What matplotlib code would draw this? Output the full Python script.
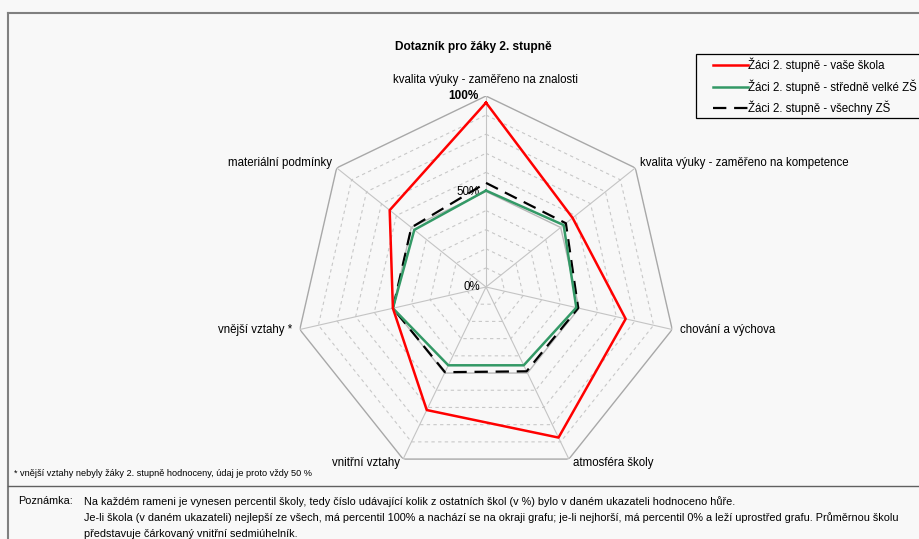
import numpy as np
import matplotlib
matplotlib.use("Agg")
import matplotlib.pyplot as plt
from matplotlib.lines import Line2D
from matplotlib.patches import Rectangle

plt.rcParams['font.family'] = ['Liberation Sans', 'DejaVu Sans']

# categories (clockwise from top)
categories = [
    "kvalita výuky - zaměřeno na znalosti",
    "kvalita výuky - zaměřeno na kompetence",
    "chování a výchova",
    "atmosféra školy",
    "vnitřní vztahy",
    "vnější vztahy *",
    "materiální podmínky",
]

# percentiles (0..1)
vase_skola = [0.965, 0.58, 0.75, 0.875, 0.715, 0.50, 0.645]
stredne_velke = [0.505, 0.52, 0.485, 0.455, 0.455, 0.50, 0.48]
vsechny = [0.545, 0.535, 0.495, 0.49, 0.495, 0.50, 0.50]

series_names = ["Žáci 2. stupně - vaše škola",
                "Žáci 2. stupně - středně velké ZŠ",
                "Žáci 2. stupně - všechny ZŠ"]

grid_levels = [0.1, 0.2, 0.3, 0.4, 0.5, 0.6, 0.7, 0.8, 0.9, 1.0]
bg = "#f8f8f8"

W, H = 920, 539
fig = plt.figure(figsize=(W / 100, H / 100), dpi=100, facecolor=bg)

# polar axes placed so that centre is at (486, 287) px, radius 191 px
cx, cy, R = 486, 287, 191
ax = fig.add_axes([(cx - R) / W, 1 - (cy + R) / H, 2 * R / W, 2 * R / H],
                  projection="polar")
ax.set_theta_zero_location("N")
ax.set_theta_direction(-1)
ax.set_ylim(0, 1)
ax.patch.set_alpha(0)
ax.spines["polar"].set_visible(False)
ax.grid(False)
ax.set_xticks([])
ax.set_yticks([])

n = len(categories)
theta = np.arange(n) * 2 * np.pi / n
theta_c = np.append(theta, theta[0])

# heptagon grid
for lv in grid_levels:
    r = [lv] * (n + 1)
    if lv == 1.0:
        ax.plot(theta_c, r, color="#a8a8a8", lw=1.0, zorder=1)
    elif lv == 0.5:
        ax.plot(theta_c, r, color="#b8b8b8", lw=1.0, zorder=1)
    else:
        ax.plot(theta_c, r, color="#c8c8c8", lw=0.8, ls=(0, (3, 3)), zorder=1)
for t in theta:
    ax.plot([t, t], [0, 1], color="#c4c4c4", lw=0.8, zorder=1)


def closed(v):
    return list(v) + [v[0]]


ax.plot(theta_c, closed(vsechny), color="black", lw=1.6, ls=(0, (6, 3.5)), zorder=3)
ax.plot(theta_c, closed(stredne_velke), color="#339966", lw=1.8, zorder=4)
ax.plot(theta_c, closed(vase_skola), color="#ff0000", lw=1.8, zorder=5)

# radial labels
ax.annotate("100%", (0, 1.0), xytext=(-7, 0), textcoords="offset pixels",
            ha="right", va="center", fontsize=8.5, fontweight="bold")
ax.annotate("50%", (0, 0.5), xytext=(-6, 0), textcoords="offset pixels",
            ha="right", va="center", fontsize=8.3)
ax.annotate("0%", (0, 0.0), xytext=(-6, 0), textcoords="offset pixels",
            ha="right", va="center", fontsize=8.3)

# category labels
label_pos = [
    ((0, 16), "center", "center"),
    ((5, 5), "left", "center"),
    ((8, 0), "left", "center"),
    ((4, -4), "left", "center"),
    ((-3, -4), "right", "center"),
    ((-8, 0), "right", "center"),
    ((-5, 5), "right", "center"),
]
for t, lab, (off, ha, va) in zip(theta, categories, label_pos):
    ax.annotate(lab, (t, 1.0), xytext=off, textcoords="offset pixels",
                ha=ha, va=va, fontsize=8.3)

fig.text(473 / W, 1 - 47 / H, "Dotazník pro žáky 2. stupně", ha="center",
         va="center", fontsize=8.6, fontweight="bold")

# legend (frame drawn separately)
fig.add_artist(Rectangle((696 / W, 1 - 118 / H), (930 - 696) / W, 64 / H,
                         transform=fig.transFigure, facecolor=bg,
                         edgecolor="black", lw=0.9, zorder=2))
handles = [Line2D([], [], color="#ff0000", lw=1.8),
           Line2D([], [], color="#339966", lw=1.8),
           Line2D([], [], color="black", lw=1.6, ls=(0, (6, 3.5)))]
leg = fig.legend(handles, series_names, loc="upper left",
                 bbox_to_anchor=(713 / W, 1 - 58 / H), fontsize=8.3,
                 frameon=False, handlelength=3.0,
                 handletextpad=0.05, labelspacing=0.6, borderpad=0,
                 borderaxespad=0)
leg.set_zorder(3)

# frame lines
fig.add_artist(Line2D([8 / W, 1], [1 - 13 / H] * 2, color="#808080", lw=1.5))
fig.add_artist(Line2D([8 / W] * 2, [0, 1 - 13 / H], color="#808080", lw=1.5))
fig.add_artist(Line2D([8 / W, 1], [1 - 486 / H] * 2, color="#606060", lw=1.0))

fig.text(14 / W, 1 - 474 / H,
         "* vnější vztahy nebyly žáky 2. stupně hodnoceny, údaj je proto vždy 50 %",
         ha="left", va="center", fontsize=6.6)

fig.text(18 / W, 1 - 501 / H, "Poznámka:", ha="left", va="center", fontsize=7.8)
note_lines = [
    "Na každém rameni je vynesen percentil školy, tedy číslo udávající kolik z ostatních škol (v %) bylo v daném ukazateli hodnoceno hůře.",
    "Je-li škola (v daném ukazateli) nejlepší ze všech, má percentil 100% a nachází se na okraji grafu; je-li nejhorší, má percentil 0% a leží uprostřed grafu. Průměrnou školu",
    "představuje čárkovaný vnitřní sedmiúhelník.",
]
for i, line in enumerate(note_lines):
    fig.text(84 / W, 1 - (502 + 16 * i) / H, line, ha="left", va="center", fontsize=7.8)

fig.savefig("out.png", dpi=100, facecolor=bg)
